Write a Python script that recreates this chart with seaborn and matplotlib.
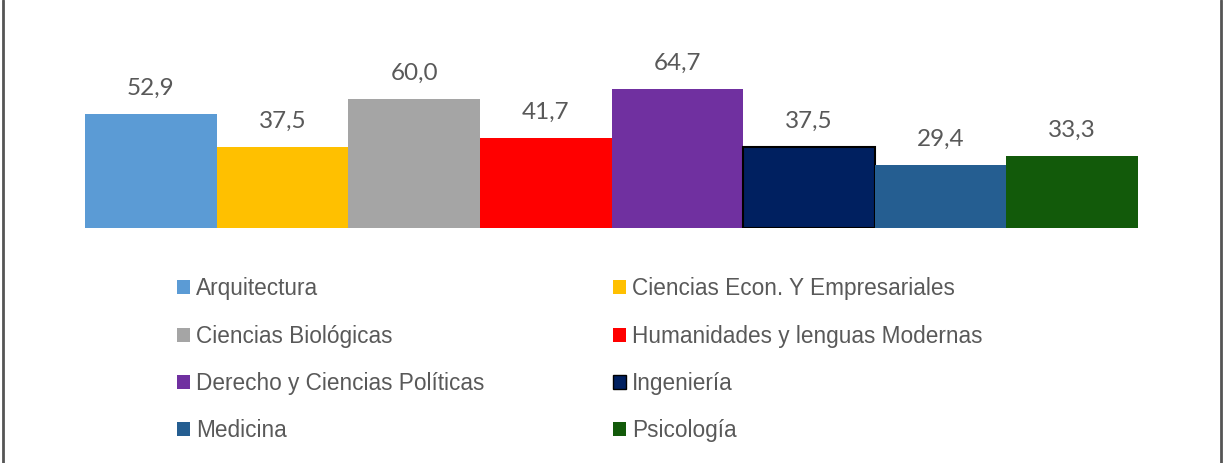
import pandas as pd
import matplotlib.pyplot as plt
import seaborn as sns
from matplotlib.lines import Line2D
from matplotlib.patches import Patch

# Data
carreras = ['Arquitectura', 'Ciencias Econ. Y Empresariales', 'Ciencias Biológicas',
            'Humanidades y lenguas Modernas', 'Derecho y Ciencias Políticas',
            'Ingeniería', 'Medicina', 'Psicología']
valores = [52.9, 37.5, 60.0, 41.7, 64.7, 37.5, 29.4, 33.3]
colores = ['#5B9BD5', '#FFC000', '#A5A5A5', '#FF0000', '#7030A0',
           '#002060', '#255E91', '#125A0A']

TEXT_COLOR = '#595959'

sns.set_style("white")
plt.rcParams['font.family'] = ['Liberation Sans', 'DejaVu Sans']

df = pd.DataFrame({'carrera': carreras, 'valor': valores})

fig = plt.figure(figsize=(12.24, 4.63), dpi=100)
ax = fig.add_axes([85 / 1224, 1 - 228 / 463, (1138 - 85) / 1224, 215 / 463])

sns.barplot(data=df, x='carrera', y='valor', hue='carrera', hue_order=carreras,
            order=carreras, palette=colores, width=1.0, saturation=1,
            legend=False, ax=ax)

# Ingenieria bar has a dark outline
for c, name in zip(ax.containers, carreras):
    for bar in c:
        if name == 'Ingeniería':
            bar.set_edgecolor('black')
            bar.set_linewidth(1.5)
        else:
            bar.set_linewidth(0)
    ax.bar_label(c, labels=[f"{v:.1f}".replace('.', ',') for v in c.datavalues],
                 padding=11, fontsize=17.5, color=TEXT_COLOR, family='Lato')

ax.set_xlim(-0.5, len(carreras) - 0.5)
ax.set_ylim(0, 100)
ax.set_xlabel('')
ax.set_ylabel('')
ax.set_xticks([])
ax.set_yticks([])
sns.despine(ax=ax, left=True, bottom=True)

# Legend in two columns (split into two legends for exact placement)
handles = [Patch(facecolor=col, edgecolor='black' if n == 'Ingeniería' else col,
                 linewidth=1 if n == 'Ingeniería' else 0)
           for n, col in zip(carreras, colores)]
leg_kw = dict(frameon=False, fontsize=16.3, labelcolor=TEXT_COLOR, borderpad=0,
              handlelength=0.58, handleheight=0.58, handletextpad=0.25,
              labelspacing=1.07, loc='upper left')
leg1 = fig.legend(handles[0::2], carreras[0::2], bbox_to_anchor=(166 / 1224, 1 - 266 / 463), **leg_kw)
leg2 = fig.legend(handles[1::2], carreras[1::2], bbox_to_anchor=(602 / 1224, 1 - 266 / 463), **leg_kw)

# Side border lines
for x in (2.5 / 1224, 1220.5 / 1224):
    fig.add_artist(Line2D([x, x], [0, 1], color='#555555', linewidth=2, transform=fig.transFigure))

fig.savefig('out.png', dpi=100)
